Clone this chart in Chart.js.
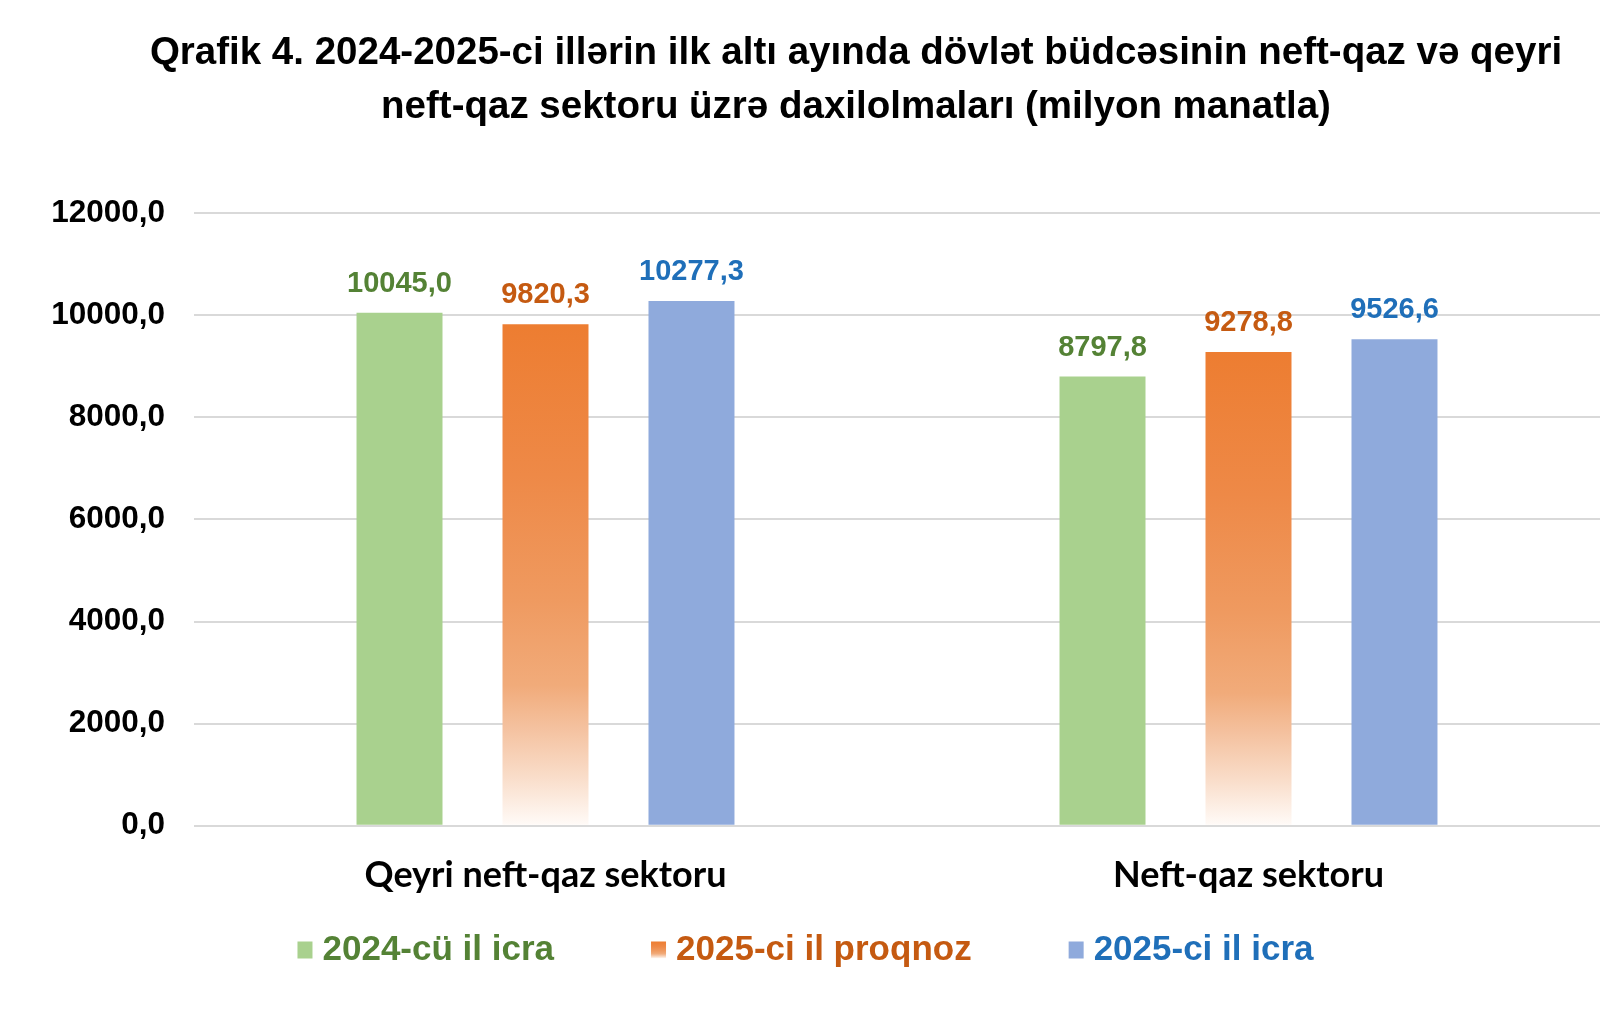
<!DOCTYPE html>
<html>
<head>
<meta charset="utf-8">
<title>Qrafik 4</title>
<script src="https://cdn.jsdelivr.net/npm/chart.js@4/dist/chart.umd.min.js"></script>
<style>
  html, body { margin: 0; padding: 0; background: #ffffff; }
  #wrap { width: 1600px; height: 1012px; }
</style>
</head>
<body>
<div id="wrap"><canvas id="budget" width="1600" height="1012"></canvas></div>
<script>
// Sectors on the category axis
const categories = ['Qeyri neft-qaz sektoru', 'Neft-qaz sektoru'];

// Series names
const seriesNames = ['2024-cü il icra', '2025-ci il proqnoz', '2025-ci il icra'];

// Revenues, million manat
const actual2024 = [10045.0, 8797.8];
const forecast2025 = [9820.3, 9278.8];
const actual2025 = [10277.3, 9526.6];

// Value axis ticks
const yTicks = [0, 2000, 4000, 6000, 8000, 10000, 12000];

// Title lines
const titleLines = [
  'Qrafik 4. 2024-2025-ci illərin ilk altı ayında dövlət büdcəsinin neft-qaz və qeyri',
  'neft-qaz sektoru üzrə daxilolmaları (milyon manatla)'
];

const barColors = ['#A9D18E', '#ED7D31', '#8FAADC'];
const valueColors = ['#548235', '#C55A11', '#1F6FB9'];

const ARIAL = "'Liberation Sans', Arial, Helvetica, sans-serif";
const CAT_FONT = "Lato, Calibri, 'Open Sans', sans-serif";

const fmt = v => v.toFixed(1).replace('.', ',');

// Forecast bars fade from orange at the top to white at the base
function forecastFill(ctx, top, bottom) {
  const g = ctx.createLinearGradient(0, top, 0, bottom);
  g.addColorStop(0.00, '#ED7D31');
  g.addColorStop(0.30, '#EE8947');
  g.addColorStop(0.55, '#EF9A60');
  g.addColorStop(0.72, '#F1AB7A');
  g.addColorStop(0.80, '#F4C09D');
  g.addColorStop(0.90, '#F9DCC8');
  g.addColorStop(1.00, '#FFFBF8');
  return g;
}

function barFill(i) {
  if (i !== 1) return barColors[i];
  return (c) => {
    const chart = c.chart;
    if (!chart.chartArea || c.type !== 'data' || !c.parsed) return barColors[1];
    const y = chart.scales.y;
    return forecastFill(chart.ctx, y.getPixelForValue(c.parsed.y), y.getPixelForValue(0));
  };
}

// Two-line heading
const headingPlugin = {
  id: 'heading',
  afterDraw(chart, args, opts) {
    const ctx = chart.ctx;
    ctx.save();
    ctx.font = `bold ${opts.size}px ${ARIAL}`;
    ctx.fillStyle = '#000000';
    ctx.textAlign = 'center';
    ctx.textBaseline = 'middle';
    titleLines.forEach((t, k) => ctx.fillText(t, opts.x, opts.y[k]));
    ctx.restore();
  }
};

// Value labels above bars
const valueLabelPlugin = {
  id: 'valueLabels',
  afterDatasetsDraw(chart, args, opts) {
    const ctx = chart.ctx;
    ctx.save();
    ctx.font = `bold ${opts.size}px ${ARIAL}`;
    ctx.textAlign = 'center';
    ctx.textBaseline = 'middle';
    chart.data.datasets.forEach((ds, i) => {
      const meta = chart.getDatasetMeta(i);
      ctx.fillStyle = valueColors[i];
      meta.data.forEach((bar, j) => {
        ctx.fillText(fmt(ds.data[j]), bar.x, bar.y - opts.offset);
      });
    });
    ctx.restore();
  }
};

// Series key under the axis
const seriesKeyPlugin = {
  id: 'seriesKey',
  afterDraw(chart, args, opts) {
    const ctx = chart.ctx;
    ctx.save();
    ctx.font = `bold ${opts.size}px ${ARIAL}`;
    ctx.textBaseline = 'middle';
    ctx.textAlign = 'left';
    const items = chart.data.datasets.map(ds => ({ text: ds.label, w: ctx.measureText(ds.label).width }));
    const total = items.reduce((s, it) => s + opts.box + opts.gap + it.w, 0) + opts.spacing * (items.length - 1);
    let x = opts.centerX - total / 2;
    const top = opts.y - opts.boxH / 2;
    items.forEach((it, i) => {
      ctx.fillStyle = i === 1 ? forecastFill(ctx, top, top + opts.boxH) : barColors[i];
      ctx.fillRect(x, top, opts.box, opts.boxH);
      ctx.fillStyle = valueColors[i];
      ctx.fillText(it.text, x + opts.box + opts.gap, opts.y);
      x += opts.box + opts.gap + it.w + opts.spacing;
    });
    ctx.restore();
  }
};

const datasets = [actual2024, forecast2025, actual2025].map((vals, i) => ({
  label: seriesNames[i],
  data: vals,
  backgroundColor: barFill(i),
  borderWidth: 0,
  categoryPercentage: 0.623,
  barPercentage: 0.589
}));

new Chart(document.getElementById('budget'), {
  type: 'bar',
  data: { labels: categories, datasets },
  plugins: [headingPlugin, valueLabelPlugin, seriesKeyPlugin],
  options: {
    responsive: false,
    animation: false,
    devicePixelRatio: 1,
    layout: { padding: { top: 213, bottom: 87, left: 0, right: 0 } },
    plugins: {
      legend: { display: false },
      title: { display: false },
      tooltip: { enabled: false },
      heading: { size: 38.5, x: 856, y: [53, 107] },
      valueLabels: { size: 29, offset: 29 },
      seriesKey: { size: 35, centerX: 805.5, y: 950, box: 15, boxH: 17, gap: 10, spacing: 97 }
    },
    scales: {
      x: {
        grid: { display: false, drawTicks: false },
        border: { display: false },
        ticks: {
          color: '#000000',
          padding: 28,
          font: { family: CAT_FONT, size: 36, weight: 'bold', lineHeight: 1.2 }
        }
      },
      y: {
        min: 0,
        max: 12000,
        afterFit(scale) { scale.width = 194; },
        afterBuildTicks(scale) { scale.ticks = yTicks.map(v => ({ value: v })); },
        grid: { color: '#D9D9D9', lineWidth: 2, drawTicks: false },
        border: { display: false },
        ticks: {
          color: '#000000',
          padding: 29,
          font: { family: ARIAL, size: 31.5, weight: 'bold' },
          callback: v => fmt(v)
        }
      }
    }
  }
});
</script>
</body>
</html>
